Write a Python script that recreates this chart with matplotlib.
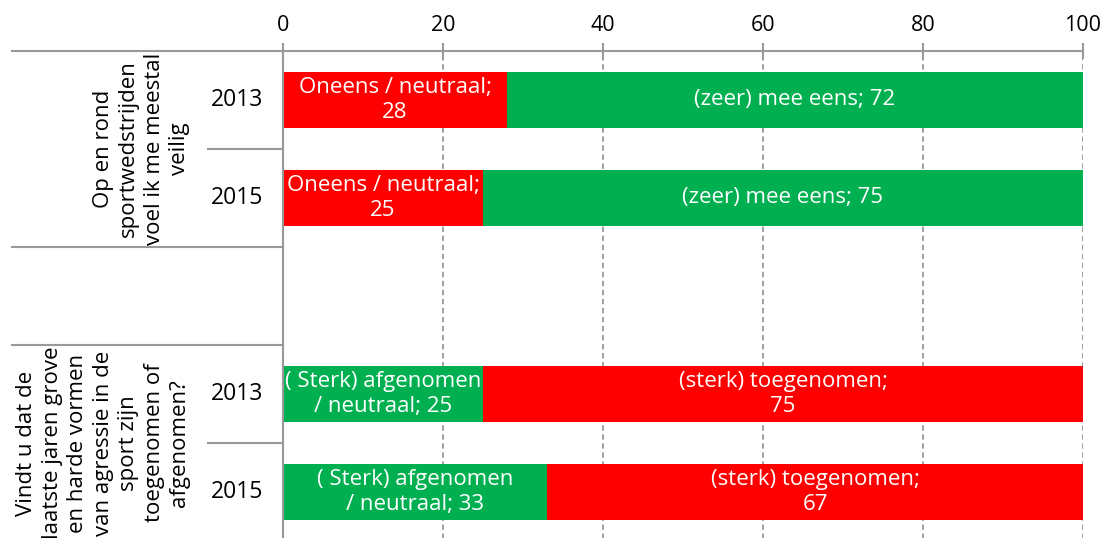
import matplotlib.pyplot as plt
from matplotlib.transforms import blended_transform_factory

plt.rcParams['font.family'] = ['Open Sans', 'DejaVu Sans']

# data
questions = ["Op en rond\nsportwedstrijden\nvoel ik me meestal\nveilig",
             "Vindt u dat de\nlaatste jaren grove\nen harde vormen\nvan agressie in de\nsport zijn\ntoegenomen of\nafgenomen?"]
years = ["2013", "2015"]

q1_disagree = [28, 25]
q1_agree = [72, 75]
q2_decreased = [25, 33]
q2_increased = [75, 67]

q1_labels = ["Oneens / neutraal;\n{}", "(zeer) mee eens; {}"]
q2_labels = ["( Sterk) afgenomen\n/ neutraal; {}", "(sterk) toegenomen;\n{}"]

RED = "#FF0000"
GREEN = "#00B050"
GREY = "#999999"

fig = plt.figure(figsize=(11.05, 5.38), dpi=100)
ax = fig.add_axes([283 / 1105, -3 / 538, 800 / 1105, 490 / 538])
ax.set_xlim(0, 100)
ax.set_ylim(5, 0)

rows_q1 = [0.5, 1.5]
rows_q2 = [3.5, 4.5]
bh = 0.58

groups = [(rows_q1, q1_disagree, q1_agree, RED, GREEN, q1_labels),
          (rows_q2, q2_decreased, q2_increased, GREEN, RED, q2_labels)]

for rows, first, second, c1, c2, labels in groups:
    ax.barh(rows, first, height=bh, color=c1, zorder=2)
    ax.barh(rows, second, left=first, height=bh, color=c2, zorder=2)
    for y, a, b in zip(rows, first, second):
        ax.text(a / 2, y, labels[0].format(a), ha='center', va='center',
                color='white', fontsize=16, linespacing=1.28, zorder=3)
        ax.text(a + b / 2, y, labels[1].format(b), ha='center', va='center',
                color='white', fontsize=16, linespacing=1.28, zorder=3)

# axis on top
ax.xaxis.tick_top()
ax.set_xticks([0, 20, 40, 60, 80, 100])
ax.tick_params(axis='x', direction='inout', length=11, width=1.5, color=GREY,
               labelsize=15.5, pad=5)
ax.set_yticks([])
ax.grid(axis='x', color=GREY, linestyle=(0, (3, 2)), linewidth=1.3)
ax.set_axisbelow('line')

for s in ['right', 'bottom']:
    ax.spines[s].set_visible(False)
ax.spines['top'].set_color(GREY)
ax.spines['top'].set_linewidth(1.5)
ax.spines['left'].set_color(GREY)
ax.spines['left'].set_linewidth(1.5)

trans = blended_transform_factory(ax.transAxes, ax.transData)
long_x = (12 - 283) / 800
short_x = (208 - 283) / 800
for y, x0 in [(0, long_x), (1, short_x), (2, long_x), (3, long_x), (4, short_x)]:
    ax.plot([x0, 0], [y, y], color=GREY, linewidth=1.5, transform=trans,
            clip_on=False)

# year labels
for rows in (rows_q1, rows_q2):
    for y, yr in zip(rows, years):
        ax.text((237 - 283) / 800, y, yr, ha='center', va='center',
                fontsize=16.5, transform=trans)

# question labels
for yc, q in zip([1, 4], questions):
    ax.text((190 - 283) / 800, yc, q, rotation=90, ha='right', va='center',
            multialignment='center', fontsize=16, linespacing=1.28,
            transform=trans)

fig.savefig("out.png", dpi=100)
